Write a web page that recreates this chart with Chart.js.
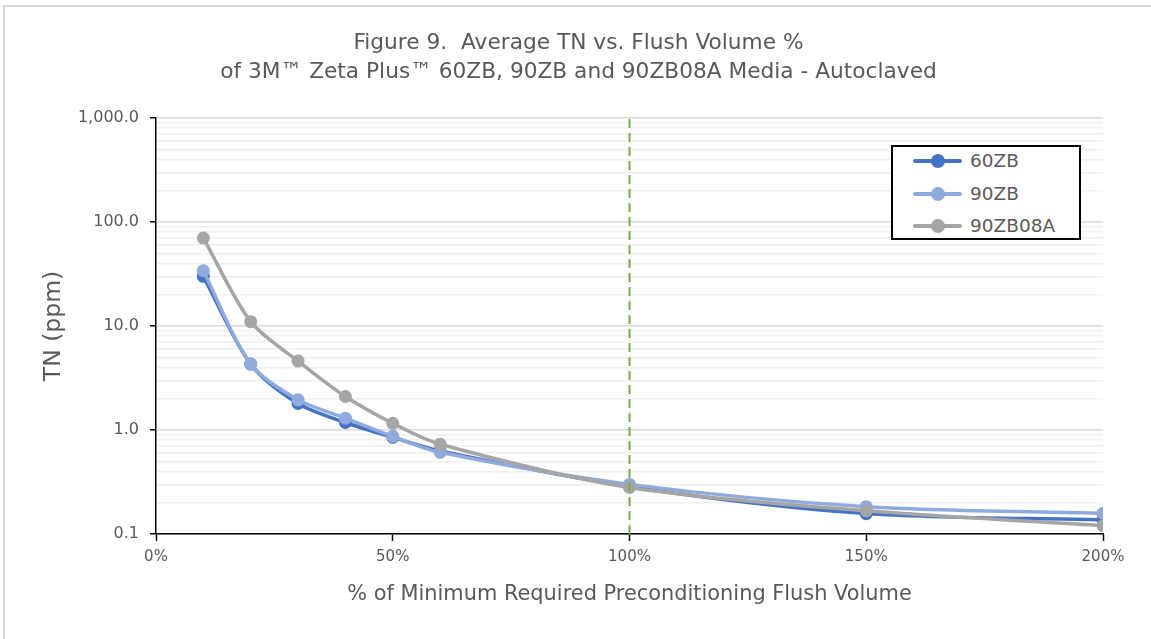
<!DOCTYPE html>
<html>
<head>
<meta charset="utf-8">
<script src="https://cdn.jsdelivr.net/npm/chart.js@4/dist/chart.umd.min.js"></script>
<style>
  html, body { margin: 0; padding: 0; background: #fff; }
  #wrap { position: relative; width: 1151px; height: 639px; overflow: hidden; }
  #frame { position: absolute; left: 3px; top: 5px; width: 1200px; height: 700px;
           border-top: 2px solid #d9d9d9; border-left: 2px solid #d9d9d9; }
  canvas { position: absolute; left: 0; top: 0; }
  #legend { position: absolute; left: 891px; top: 145px; width: 190px; height: 95px;
            border: 2px solid #000; box-sizing: border-box; background: #fff;
            font-family: "DejaVu Sans", sans-serif; font-size: 18.5px; color: #595959; }
  .item { position: absolute; left: 0; height: 22px; }
  .item .ln { position: absolute; left: 20px; top: 9px; width: 49px; height: 4px; border-radius: 2px; }
  .item .dot { position: absolute; left: 38px; top: 4px; width: 14px; height: 14px; border-radius: 50%; }
  .item .tx { position: absolute; left: 77px; top: 0px; white-space: nowrap; line-height: 22px; }
</style>
</head>
<body>
<div id="wrap">
  <div id="frame"></div>
  <canvas id="c" width="1151" height="639"></canvas>
  <div id="legend"></div>
</div>
<script>
// ---- data ----
const flushPct = [10, 20, 30, 40, 50, 60, 100, 150, 200];
const tn60ZB    = [30, 4.3, 1.8, 1.18, 0.85, 0.63, 0.285, 0.157, 0.137];
const tn90ZB    = [34, 4.3, 1.95, 1.3, 0.87, 0.61, 0.30, 0.183, 0.158];
const tn90ZB08A = [70, 11, 4.6, 2.1, 1.16, 0.73, 0.28, 0.167, 0.12];
const seriesNames = ['60ZB', '90ZB', '90ZB08A'];
const refLineX = [100, 100];
const refLineY = [0.1, 1000];
const yMajorTicks = [0.1, 1, 10, 100, 1000];
const xTicks = [0, 50, 100, 150, 200];
const titleLines = ['Figure 9.  Average TN vs. Flush Volume %', 'of 3M\u2122 Zeta Plus\u2122 60ZB, 90ZB and 90ZB08A Media - Autoclaved'];

const colors = ['#4472C4', '#8FAADC', '#A5A5A5'];
const textColor = '#595959';
const FONT = '"DejaVu Sans", sans-serif';

function pts(ys) { return flushPct.map((x, i) => ({x: x, y: ys[i]})); }

const seriesData = [tn60ZB, tn90ZB, tn90ZB08A];
const datasets = seriesData.map((ys, i) => ({
  label: seriesNames[i],
  data: pts(ys),
  borderColor: colors[i],
  backgroundColor: colors[i],
  borderWidth: 3.5,
  pointRadius: 6.5,
  pointHoverRadius: 6.5,
  pointBorderWidth: 0,
  tension: 0.3,
  order: 3 - i
}));
datasets.push({
  label: 'ref',
  data: refLineX.map((x, i) => ({x: x, y: refLineY[i]})),
  borderColor: '#70AD47',
  borderWidth: 2,
  borderDash: [9, 5],
  pointRadius: 0,
  tension: 0,
  order: 0
});

const isMajor = v => yMajorTicks.some(m => Math.abs(m - v) < 1e-9 * Math.max(1, m));

new Chart(document.getElementById('c'), {
  type: 'line',
  data: { datasets: datasets },
  options: {
    responsive: false,
    animation: false,
    events: [],
    layout: { padding: { left: 42, right: 36, top: 0, bottom: 20 } },
    plugins: {
      legend: { display: false },
      tooltip: { enabled: false },
      title: {
        display: true,
        text: titleLines,
        color: textColor,
        font: { family: FONT, size: 21.7, weight: 'normal', lineHeight: 1.336 },
        padding: { top: 28.5, bottom: 31.5 }
      }
    },
    scales: {
      x: {
        type: 'linear',
        min: 0, max: 200,
        afterBuildTicks: s => { s.ticks = xTicks.map(v => ({value: v})); },
        ticks: {
          color: textColor,
          font: { family: FONT, size: 15 },
          padding: 7,
          maxRotation: 0,
          autoSkip: false,
          callback: v => v + '%'
        },
        grid: { drawOnChartArea: false, drawTicks: true, tickLength: 7, tickColor: '#000', tickWidth: 1.5 },
        border: { color: '#000', width: 1.5 },
        title: {
          display: true,
          text: '% of Minimum Required Preconditioning Flush Volume',
          color: textColor,
          font: { family: FONT, size: 20.9 },
          padding: { top: 10, bottom: 12 }
        },
        afterFit: s => { s.height = 85; }
      },
      y: {
        type: 'logarithmic',
        position: 'left',
        min: 0.1, max: 1000,
        afterBuildTicks: s => {
          const t = [];
          yMajorTicks.forEach((m, i) => {
            t.push({value: m, major: true});
            if (i < yMajorTicks.length - 1) {
              for (let k = 2; k <= 9; k++) t.push({value: +(m * k).toPrecision(6), major: false});
            }
          });
          s.ticks = t;
        },
        ticks: {
          color: textColor,
          font: { family: FONT, size: 16 },
          padding: 11,
          autoSkip: false,
          callback: v => isMajor(v) ? v.toLocaleString('en-US', {minimumFractionDigits: 1, maximumFractionDigits: 1}) : ''
        },
        grid: {
          color: c => (c.tick && isMajor(c.tick.value)) ? '#d9d9d9' : '#f0f0f0',
          lineWidth: 1.5,
          tickColor: c => (c.tick && isMajor(c.tick.value)) ? '#000' : 'rgba(0,0,0,0)',
          tickLength: 6,
          tickWidth: 1.5
        },
        border: { color: '#000', width: 1.5 },
        title: {
          display: true,
          text: 'TN (ppm)',
          color: textColor,
          font: { family: FONT, size: 23.5, lineHeight: 1 },
          padding: { top: 0, bottom: 0 }
        },
        afterFit: s => { s.width = 114; }
      },
      yRightSpacer: {
        type: 'linear',
        position: 'right',
        display: true,
        grid: { display: false },
        ticks: { display: false },
        border: { display: false },
        afterFit: s => { s.width = 12; }
      }
    }
  }
});

// HTML legend built from the series
const lg = document.getElementById('legend');
seriesNames.forEach((name, i) => {
  const it = document.createElement('div');
  it.className = 'item';
  it.style.top = (3 + i * 32.5) + 'px';
  it.innerHTML = '<span class="ln" style="background:' + colors[i] + '"></span>' +
    '<span class="dot" style="background:' + colors[i] + '"></span>' +
    '<span class="tx">' + name + '</span>';
  lg.appendChild(it);
});
</script>
</body>
</html>
